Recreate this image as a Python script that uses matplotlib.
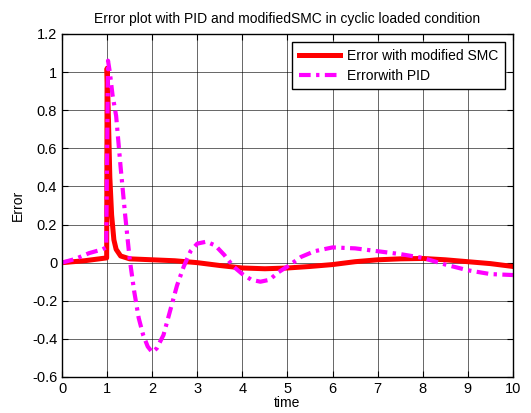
import matplotlib
matplotlib.use("Agg")
import numpy as np
import matplotlib.pyplot as plt

plt.rcParams['font.family'] = ['Liberation Sans Narrow', 'Liberation Sans', 'DejaVu Sans']

# error with modified SMC
t_smc = [0, 0.5, 0.99, 1.0, 1.03, 1.06, 1.1, 1.15, 1.2, 1.3, 1.5, 2.0, 2.5, 3.0, 3.5, 4.0,
         4.5, 5.0, 5.5, 6.0, 6.5, 7.0, 7.5, 8.0, 8.5, 9.0, 9.5, 10.0]
e_smc = [0, 0.01, 0.025, 1.02, 0.75, 0.45, 0.25, 0.12, 0.07, 0.035, 0.02, 0.015, 0.01, 0.0,
         -0.015, -0.028, -0.032, -0.028, -0.02, -0.01, 0.005, 0.015, 0.02, 0.022, 0.015,
         0.005, -0.005, -0.02]

# error with PID
t_pid = [0, 0.3, 0.6, 0.9, 0.98, 1.02, 1.06, 1.12, 1.2, 1.3, 1.4, 1.5, 1.6, 1.7, 1.8, 1.9,
         2.0, 2.1, 2.25, 2.4, 2.55, 2.7, 2.85, 3.0, 3.2, 3.4, 3.6, 3.8, 4.0, 4.2, 4.4, 4.6,
         4.8, 5.0, 5.3, 5.6, 6.0, 6.5, 7.0, 7.5, 8.0, 8.5, 9.0, 9.5, 10.0]
e_pid = [0, 0.02, 0.05, 0.07, 0.08, 1.06, 1.0, 0.88, 0.77, 0.5, 0.25, 0.02, -0.15, -0.29,
         -0.38, -0.44, -0.47, -0.45, -0.38, -0.25, -0.12, -0.02, 0.06, 0.1, 0.11, 0.09,
         0.04, -0.02, -0.06, -0.09, -0.1, -0.09, -0.05, -0.02, 0.03, 0.06, 0.08, 0.075,
         0.06, 0.045, 0.025, -0.01, -0.04, -0.06, -0.065]

fig = plt.figure(figsize=(5.31, 4.13), dpi=100)
ax = fig.add_axes([0.1168, 0.0872, 0.8492, 0.8305])

ax.plot(t_smc, e_smc, color='red', lw=3.6, label='Error with modified SMC')
ax.plot(t_pid, e_pid, color='magenta', lw=3.0, ls=(0, (2.8, 1.3, 0.8, 1.3)),
        label='Errorwith PID')

ax.set_xlim(0, 10)
ax.set_ylim(-0.6, 1.2)
ax.set_xticks(np.arange(0, 11, 1))
ax.set_yticks(np.arange(-0.6, 1.21, 0.2))
ax.set_yticklabels(['-0.6', '-0.4', '-0.2', '0', '0.2', '0.4', '0.6', '0.8', '1', '1.2'])
ax.grid(True, color='black', lw=0.7, alpha=0.6)
ax.tick_params(direction='in', labelsize=10.5, length=4, top=True, right=True)
for s in ax.spines.values():
    s.set_linewidth(1.0)

ax.set_title('Error plot with PID and modifiedSMC in cyclic loaded condition', fontsize=10, pad=8)
ax.set_xlabel('time', fontsize=10, labelpad=0)
ax.set_ylabel('Error', fontsize=10, labelpad=5)

leg = ax.legend(loc='upper right', fontsize=10, fancybox=False, framealpha=1,
                edgecolor='black', borderaxespad=0.6, handlelength=3.0,
                borderpad=0.45, labelspacing=0.45, handletextpad=0.5)
leg.get_frame().set_linewidth(1.0)

fig.savefig('out.png', dpi=100)
